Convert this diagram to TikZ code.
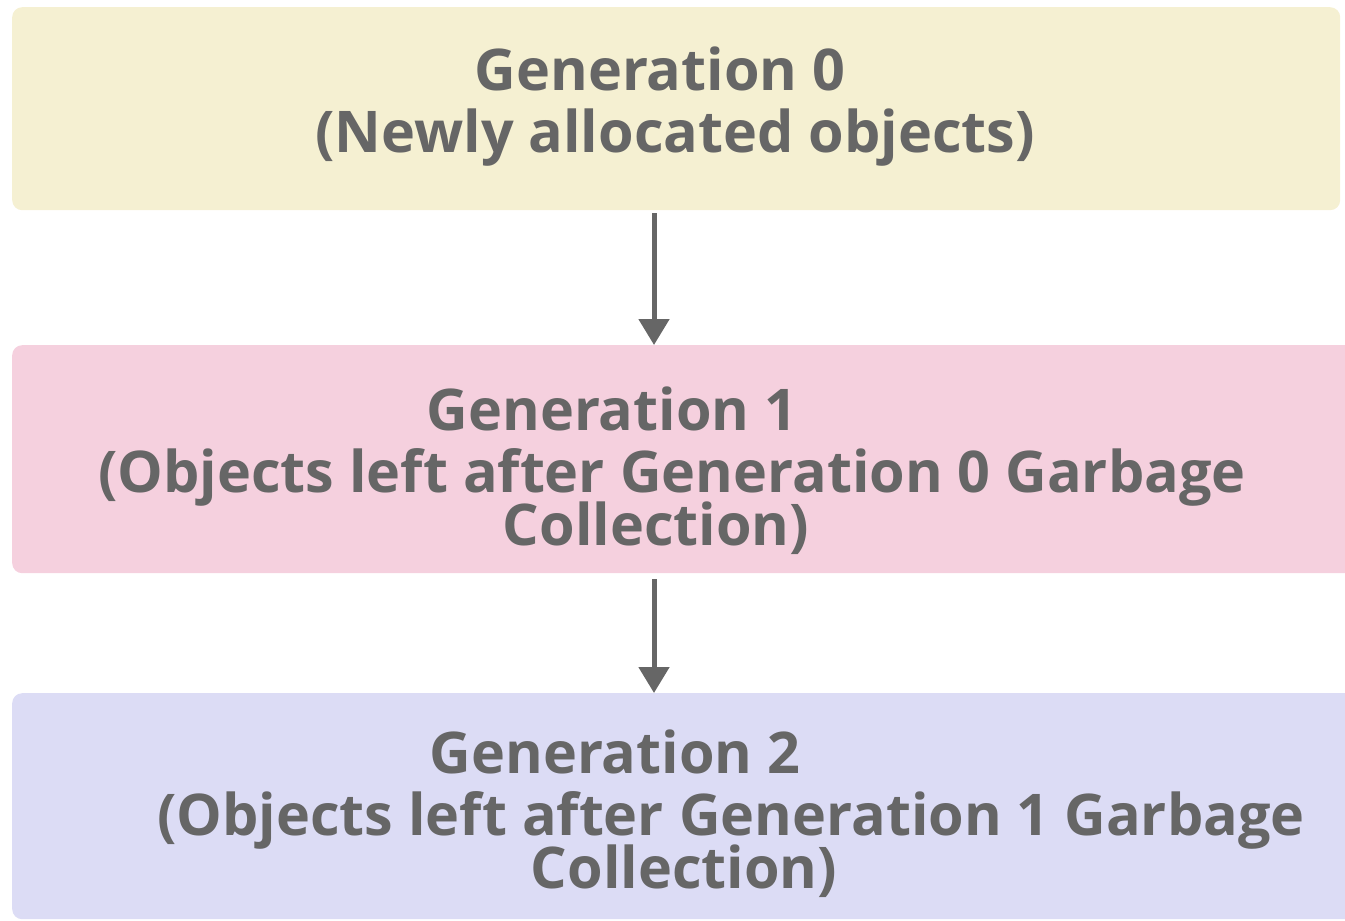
\documentclass[tikz,border=0pt]{standalone}
\usepackage{fontspec}
\setmainfont{Open Sans}
\usetikzlibrary{arrows.meta}

\definecolor{genyellow}{HTML}{F5F0D2}
\definecolor{genpink}{HTML}{F5D0DE}
\definecolor{genblue}{HTML}{DCDCF5}
\definecolor{textgrey}{HTML}{666666}

\tikzset{
  genbox/.style={rectangle, rounded corners=10pt, anchor=north west, inner sep=0pt, minimum width=1360pt},
  genline/.style={anchor=base, inner sep=0pt, text=textgrey, font=\fontsize{57.5}{62}\selectfont\bfseries},
  genarrow/.style={draw=textgrey, line width=5pt, -{Triangle[width=30pt,length=26pt]}}
}

\begin{document}
\begin{tikzpicture}[x=1pt,y=-1pt]
    \useasboundingbox (0,0) rectangle (1345,921);

    % the three generations
    \node[genbox, fill=genyellow, minimum height=203pt, minimum width=1328pt] (gen0) at (12,7) {};
    \node[genbox, fill=genpink, minimum height=228pt] (gen1) at (12,345) {};
    \node[genbox, fill=genblue, minimum height=226pt] (gen2) at (12,693) {};

    \node[genline] (gen0a) at (660,90) {Generation 0};
    \node[genline] (gen0b) at (675,152) {(Newly allocated objects)};

    \node[genline] (gen1a) at (612,430) {Generation 1};
    \node[genline] (gen1b) at (672,492) {(Objects left after Generation 0 Garbage};
    \node[genline] (gen1c) at (656,545) {Collection)};

    \node[genline] (gen2a) at (615,773) {Generation 2};
    \node[genline] (gen2b) at (731,835) {(Objects left after Generation 1 Garbage};
    \node[genline] (gen2c) at (684,888) {Collection)};

    % arrows between them
    \coordinate (axis) at (654,0);
    \draw[genarrow] ([yshift=-3pt]gen0.south -| axis) -- (gen1.north -| axis);
    \draw[genarrow] ([yshift=-6pt]gen1.south -| axis) -- (gen2.north -| axis);
\end{tikzpicture}
\end{document}
